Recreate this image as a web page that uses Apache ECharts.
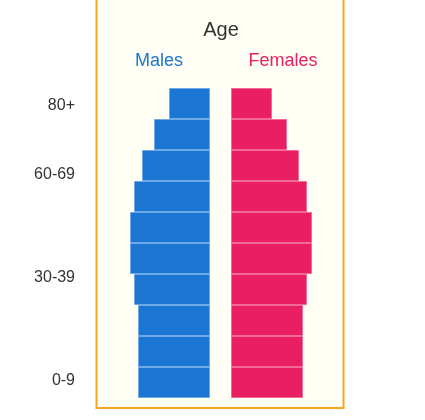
<!DOCTYPE html>
<html><head><meta charset="utf-8">
<script src="https://cdn.jsdelivr.net/npm/echarts@6/dist/echarts.min.js"></script>
<style>html,body{margin:0;padding:0;background:#fff}#c{width:425px;height:420px}</style>
</head><body><div id="c"></div>
<script>
const barCategories = ['0-9','10-19','20-29','30-39','40-49','50-59','60-69','70-79','80-89','90+'];
const labelCategories = ['0-9','10-19','20-29','30-39','40-49','50-59','60-69','70-79','80+'];
const males = [72,72,72,76,80,80,76,68,56,41];
const females = [72,72,72,76,81,81,76,68,56,41];
const shownLabels = ['0-9','30-39','60-69','80+'];

const chart = echarts.init(document.getElementById('c'));
chart.setOption({
  animation:false,
  graphic:[
    {type:'rect',z:-10,shape:{x:96.5,y:-5,width:247,height:413},style:{fill:'#fffff5',stroke:'#f5a623',lineWidth:2}},
    {type:'text',x:221,y:30,style:{text:'Age',fill:'#333',font:'20px sans-serif',align:'center',verticalAlign:'middle'}},
    {type:'text',x:159,y:61,style:{text:'Males',fill:'#1a76d2',font:'18px sans-serif',align:'center',verticalAlign:'middle'}},
    {type:'text',x:283,y:61,style:{text:'Females',fill:'#e91e63',font:'18px sans-serif',align:'center',verticalAlign:'middle'}}
  ],
  grid:[
    {left:110,width:100,top:88,bottom:22},
    {left:231,width:100,top:88,bottom:22}
  ],
  xAxis:[
    {gridIndex:0,type:'value',min:0,max:100,inverse:true,show:false},
    {gridIndex:1,type:'value',min:0,max:100,show:false}
  ],
  yAxis:[
    {gridIndex:0,type:'category',data:barCategories,show:false},
    {gridIndex:1,type:'category',data:barCategories,show:false},
    {gridIndex:0,type:'category',data:labelCategories,position:'left',
     axisLine:{show:false},axisTick:{show:false},splitLine:{show:false},
     axisLabel:{margin:35,fontSize:16,color:'#333',interval:(i,v)=>shownLabels.includes(v)}}
  ],
  series:[
    {type:'bar',xAxisIndex:0,yAxisIndex:0,data:males,barCategoryGap:'0%',
     itemStyle:{color:'#1a76d2',borderColor:'#6fa8e6',borderWidth:1}},
    {type:'bar',xAxisIndex:1,yAxisIndex:1,data:females,barCategoryGap:'0%',
     itemStyle:{color:'#e91e63',borderColor:'#f06a95',borderWidth:1}}
  ]
});
</script></body></html>
